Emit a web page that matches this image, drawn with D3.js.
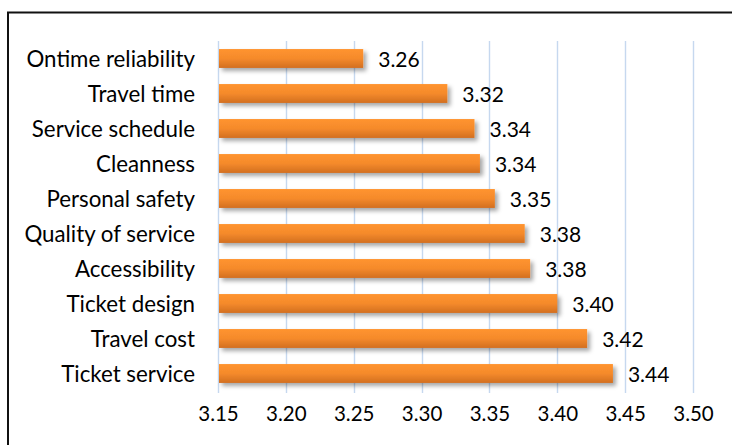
<!DOCTYPE html>
<html>
<head>
<meta charset="utf-8">
<script src="https://cdn.jsdelivr.net/npm/d3@7"></script>
<style>
    body { margin: 0; background: #fff; }
    text { font-family: Lato, "Noto Sans", sans-serif; font-size: 20.5px; fill: #000; }
    .grid line { stroke: #c6d8ef; stroke-width: 1.4; }
</style>
</head>
<body>
<svg class="chart"></svg>
<script>
// data
var categories = ["Ontime reliability", "Travel time", "Service schedule", "Cleanness",
    "Personal safety", "Quality of service", "Accessibility", "Ticket design",
    "Travel cost", "Ticket service"];
var values = [3.257, 3.319, 3.339, 3.343, 3.354, 3.376, 3.380, 3.400, 3.422, 3.441];
var valueLabels = ["3.26", "3.32", "3.34", "3.34", "3.35", "3.38", "3.38", "3.40", "3.42", "3.44"];
var tickValues = [3.15, 3.20, 3.25, 3.30, 3.35, 3.40, 3.45, 3.50];

var width = 732, height = 445;
var plot = { left: 218, right: 693, top: 41, bottom: 391 };

var svg = d3.select("svg.chart")
    .attr("width", width)
    .attr("height", height);

// bar gradient + shadow
var defs = svg.append("defs");
var grad = defs.append("linearGradient")
    .attr("id", "barGrad")
    .attr("x1", 0).attr("y1", 0).attr("x2", 0).attr("y2", 1);
grad.append("stop").attr("offset", "0%").attr("stop-color", "#ff9430");
grad.append("stop").attr("offset", "50%").attr("stop-color", "#f58a2b");
grad.append("stop").attr("offset", "100%").attr("stop-color", "#d26f20");

var shadow = defs.append("filter")
    .attr("id", "shadow")
    .attr("x", "-5%").attr("y", "-30%")
    .attr("width", "115%").attr("height", "180%");
shadow.append("feDropShadow")
    .attr("dx", 3).attr("dy", 3)
    .attr("stdDeviation", 2)
    .attr("flood-color", "#000")
    .attr("flood-opacity", 0.35);

// outer frame (only top and left visible in the picture)
svg.append("rect")
    .attr("x", 8)
    .attr("y", 12.5)
    .attr("width", 900)
    .attr("height", 900)
    .attr("fill", "none")
    .attr("stroke", "#111")
    .attr("stroke-width", 2);

// scales
var x = d3.scaleLinear()
    .domain([3.15, 3.50])
    .range([plot.left, plot.right]);

var y = d3.scaleBand()
    .domain(categories)
    .range([plot.top, plot.bottom])
    .paddingInner(0.46)
    .paddingOuter(0.23);

// gridlines
svg.append("g")
    .attr("class", "grid")
    .selectAll("line")
    .data(tickValues)
    .enter().append("line")
    .attr("x1", (d) => { return Math.round(x(d)) + 0.5; })
    .attr("x2", (d) => { return Math.round(x(d)) + 0.5; })
    .attr("y1", plot.top)
    .attr("y2", plot.bottom + 2);

// x axis labels
var xAxis = d3.axisBottom(x)
    .tickValues(tickValues)
    .tickFormat(d3.format(".2f"))
    .tickSize(0)
    .tickPadding(0);

var gx = svg.append("g")
    .attr("transform", "translate(0," + 405 + ")")
    .call(xAxis);
gx.select(".domain").remove();
gx.selectAll("text")
    .attr("fill", "#000")
    .attr("dy", "0.8em")
    .style("font-size", "20.5px")
    .style("font-family", "Lato, 'Noto Sans', sans-serif");

// y axis labels
var yAxis = d3.axisLeft(y)
    .tickSize(0)
    .tickPadding(23);

var gy = svg.append("g")
    .attr("transform", "translate(" + plot.left + ",0)")
    .call(yAxis);
gy.select(".domain").remove();
gy.selectAll("text")
    .attr("fill", "#000")
    .attr("dy", "0.36em")
    .style("font-size", "22.3px")
    .style("font-family", "Lato, 'Noto Sans', sans-serif");

// bars
svg.append("g")
    .selectAll("rect")
    .data(values)
    .enter().append("rect")
    .attr("x", x(3.15) + 1)
    .attr("y", (d, i) => { return y(categories[i]); })
    .attr("width", (d) => { return x(d) - x(3.15) - 1; })
    .attr("height", y.bandwidth())
    .attr("fill", "url(#barGrad)")
    .attr("filter", "url(#shadow)");

// value labels
svg.append("g")
    .selectAll("text")
    .data(values)
    .enter().append("text")
    .attr("x", (d) => { return x(d) + 15; })
    .attr("y", (d, i) => { return y(categories[i]) + y.bandwidth() / 2; })
    .attr("dy", "0.42em")
    .style("font-size", "21px")
    .text((d, i) => { return valueLabels[i]; });
</script>
</body>
</html>
